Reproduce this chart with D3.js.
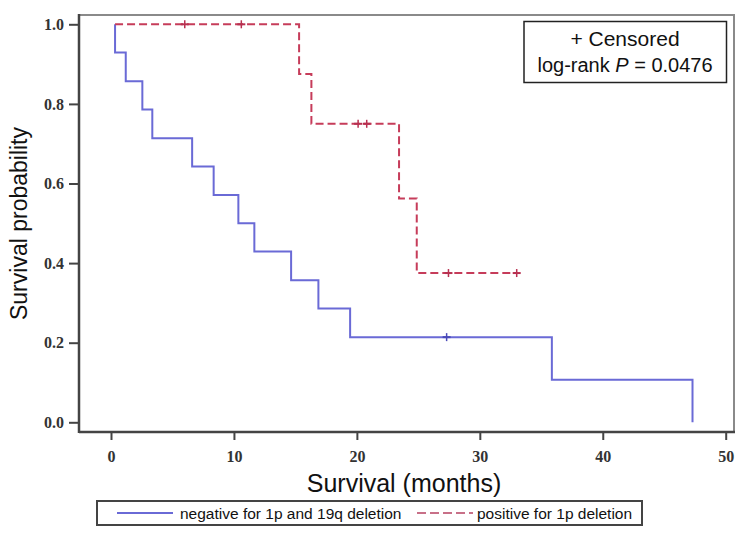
<!DOCTYPE html>
<html><head><meta charset="utf-8">
<script src="https://cdn.jsdelivr.net/npm/d3@7"></script>
<style>body{margin:0;background:#fff;}</style>
</head><body>
<svg id="c" width="749" height="540"></svg>
<script>
// Kaplan-Meier steps: [time, survival after time]
const negTimes = [0.33, 0.33, 1.2, 2.55, 3.36, 6.6, 8.35, 10.36, 11.66, 14.65, 16.87, 19.45, 35.86, 47.3];
const negSurv  = [1.0, 0.929, 0.857, 0.786, 0.714, 0.643, 0.571, 0.5, 0.429, 0.357, 0.286, 0.214, 0.107, 0.0];
const negCensor = [27.3];
const negCensorSurv = [0.214];

const posTimes = [0.33, 15.3, 16.3, 23.43, 24.87, 33.0];
const posSurv  = [1.0, 0.875, 0.75, 0.5625, 0.375, 0.375];
const posCensor = [6.0, 10.6, 20.1, 20.8, 27.45, 33.0];
const posCensorSurv = [1.0, 1.0, 0.75, 0.75, 0.375, 0.375];

const xTicks = [0, 10, 20, 30, 40, 50];
const yTicks = [0.0, 0.2, 0.4, 0.6, 0.8, 1.0];
const seriesNames = ["negative for 1p and 19q deletion", "positive for 1p deletion"];

const svg = d3.select("#c");
const L = 79, R = 734, T = 15, B = 432;
const x = d3.scaleLinear().domain([0, 50]).range([111, 725.7]);
const y = d3.scaleLinear().domain([0, 1]).range([422.3, 24.3]);

const blue = "#6a6ad6", red = "#c63c5a";
const sans = "'Liberation Sans', Arial, sans-serif";
const serif = "'Liberation Serif', 'DejaVu Serif', serif";

// frame top/right
svg.append("path").attr("d", `M${L},${T}H${R}V${B}`).attr("fill","none").attr("stroke","#8a8a8a").attr("stroke-width",2);

const kmLine = d3.line().x(d=>x(d[0])).y(d=>y(d[1]));
function kmPoints(ts, ss) {
  const pts = [[ts[0], ss[0]]];
  for (let i=1;i<ts.length;i++) pts.push([ts[i], ss[i-1]], [ts[i], ss[i]]);
  return pts;
}
svg.append("path").attr("d", kmLine(kmPoints(negTimes, negSurv))).attr("fill","none").attr("stroke",blue).attr("stroke-width",2);
svg.append("path").attr("d", kmLine(kmPoints(posTimes, posSurv))).attr("fill","none").attr("stroke",red).attr("stroke-width",2).attr("stroke-dasharray","8,4");

// censor marks
function censors(ts, ss, col) {
  ts.forEach((t,i)=>{
    svg.append("line").attr("x1",x(t)).attr("x2",x(t)).attr("y1",y(ss[i])-4).attr("y2",y(ss[i])+4).attr("stroke",col).attr("stroke-width",1.5);
    svg.append("line").attr("x1",x(t)-4).attr("x2",x(t)+4).attr("y1",y(ss[i])).attr("y2",y(ss[i])).attr("stroke",col).attr("stroke-width",2);
  });
}
censors(negCensor, negCensorSurv, "#4a4ab8");
censors(posCensor, posCensorSurv, "#b83050");

// axes
const xAxis = d3.axisBottom(x).tickValues(xTicks).tickSize(8).tickPadding(11).tickFormat(d3.format("d"));
const gx = svg.append("g").attr("transform",`translate(0,${B})`).call(xAxis);
gx.select(".domain").remove();
svg.append("line").attr("x1",L).attr("x2",R+1).attr("y1",B).attr("y2",B).attr("stroke","#444").attr("stroke-width",2.5);
const yAxis = d3.axisLeft(y).tickValues(yTicks).tickSize(10).tickPadding(5).tickFormat(d3.format(".1f"));
const gy = svg.append("g").attr("transform",`translate(${L},0)`).call(yAxis);
gy.select(".domain").remove();
svg.append("line").attr("x1",L).attr("x2",L).attr("y1",T-1).attr("y2",B+1).attr("stroke","#444").attr("stroke-width",2.5);
[gx, gy].forEach(g=>{
  g.attr("font-size", 16).attr("font-family", serif).attr("font-weight","bold");
  g.selectAll(".tick line").attr("stroke","#444").attr("stroke-width",2);
  g.selectAll(".tick text").attr("fill","#333");
});

// axis titles
svg.append("text").attr("x",404).attr("y",492).attr("text-anchor","middle")
  .attr("font-family",sans).attr("font-size",25).attr("fill","#111").text("Survival (months)");
svg.append("text").attr("transform",`translate(27,${(T+B)/2}) rotate(-90)`).attr("text-anchor","middle")
  .attr("font-family",sans).attr("font-size",23).attr("fill","#111").text("Survival probability");

// censored box
svg.append("rect").attr("x",524).attr("y",21.5).attr("width",202.5).attr("height",61).attr("fill","#fff").attr("stroke","#222").attr("stroke-width",1.5);
svg.append("text").attr("x",625).attr("y",45.5).attr("text-anchor","middle")
  .attr("font-family",sans).attr("font-size",21).attr("fill","#111").text("+ Censored");
const t2 = svg.append("text").attr("x",625).attr("y",72).attr("text-anchor","middle")
  .attr("font-family",sans).attr("font-size",20).attr("fill","#111");
t2.append("tspan").text("log-rank ");
t2.append("tspan").style("font-style","italic").text("P");
t2.append("tspan").text(" = 0.0476");

// legend
svg.append("rect").attr("x",97).attr("y",501).attr("width",545).attr("height",24).attr("fill","#fff").attr("stroke","#444").attr("stroke-width",2);
svg.append("line").attr("x1",117).attr("x2",173).attr("y1",513).attr("y2",513).attr("stroke",blue).attr("stroke-width",2);
svg.append("text").attr("x",180).attr("y",518.5).attr("font-family",sans).attr("font-size",15.5).attr("fill","#111").text(seriesNames[0]);
svg.append("line").attr("x1",417).attr("x2",473).attr("y1",513).attr("y2",513).attr("stroke","#c87088").attr("stroke-width",2).attr("stroke-dasharray","9,4");
svg.append("text").attr("x",477).attr("y",518.5).attr("font-family",sans).attr("font-size",15.5).attr("fill","#111").text(seriesNames[1]);
</script>
</body></html>
